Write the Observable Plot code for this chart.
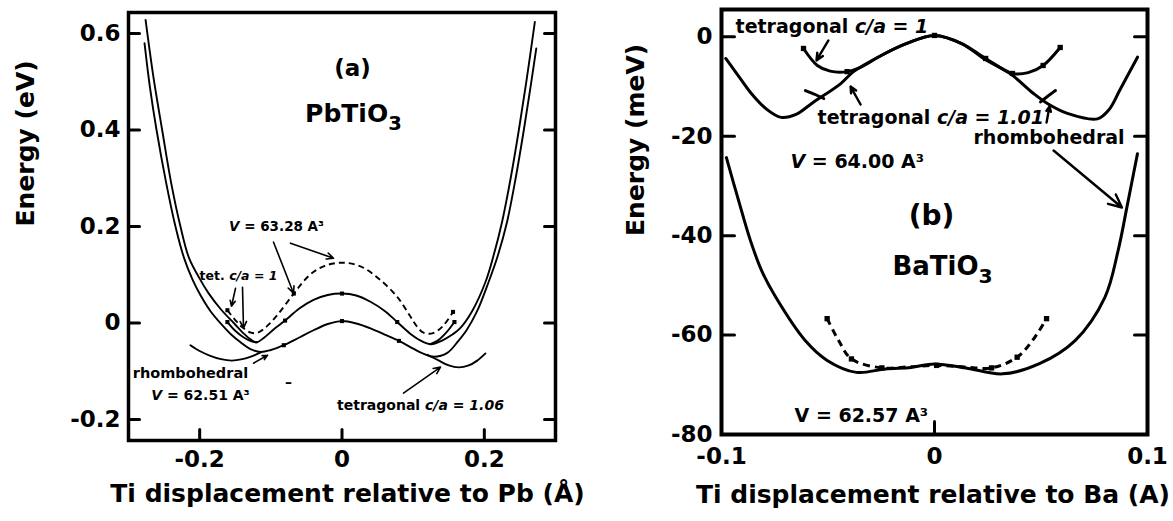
<!DOCTYPE html>
<html><head><meta charset="utf-8">
<script src="https://cdn.jsdelivr.net/npm/d3@7"></script>
<script src="https://cdn.jsdelivr.net/npm/@observablehq/plot@0.6"></script>
<style>
html,body{margin:0;padding:0;background:#fff;}
#wrap{display:flex;width:1173px;height:521px;overflow:hidden;}
</style></head><body><div id="wrap"></div>
<script>
// ---------- Panel (a) PbTiO3 : energy (eV) vs Ti displacement (Å) ----------
const aRhombInner = [[-0.276,0.628],[-0.265,0.51],[-0.2527,0.40],[-0.24,0.29],[-0.227,0.20],[-0.215,0.135],[-0.2,0.092],[-0.1876,0.062],[-0.17,0.028],[-0.152,0.0],[-0.138,-0.022],[-0.1286,-0.034],[-0.12,-0.04],[-0.11,-0.031],[-0.095,-0.012],[-0.08,0.005],[-0.06,0.03],[-0.04,0.048],[-0.02,0.058],[0,0.061],[0.02,0.057],[0.04,0.044],[0.06,0.025],[0.0776,0.002],[0.095,-0.021],[0.11,-0.036],[0.125,-0.044],[0.14,-0.037],[0.155,-0.024],[0.1665,-0.01],[0.183,0.025],[0.2016,0.085],[0.213,0.14],[0.225,0.21],[0.237,0.3],[0.2485,0.4],[0.26,0.51],[0.271,0.624]];
const aRhombOuter = [[-0.2775,0.58],[-0.27,0.49],[-0.2606,0.40],[-0.247,0.29],[-0.234,0.20],[-0.222,0.135],[-0.21,0.09],[-0.199,0.058],[-0.185,0.025],[-0.168,-0.005],[-0.155,-0.025],[-0.1426,-0.04],[-0.13,-0.053],[-0.1145,-0.06],[-0.1,-0.056],[-0.0818,-0.046],[-0.06,-0.03],[-0.04,-0.015],[-0.02,-0.002],[0,0.004],[0.02,-0.001],[0.04,-0.011],[0.06,-0.024],[0.08,-0.037],[0.1,-0.053],[0.115,-0.064],[0.129,-0.07],[0.148,-0.062],[0.163,-0.038],[0.175,-0.015],[0.19,0.025],[0.206,0.085],[0.219,0.14],[0.232,0.21],[0.244,0.3],[0.2555,0.4],[0.265,0.49],[0.273,0.569]];
const aTet106 = [
  [[-0.213,-0.046],[-0.2,-0.058],[-0.185,-0.068],[-0.17,-0.075],[-0.155,-0.078],[-0.14,-0.075],[-0.125,-0.068],[-0.114,-0.061]],
  [[0.12,-0.066],[0.135,-0.077],[0.15,-0.088],[0.164,-0.092],[0.178,-0.088],[0.19,-0.078],[0.2016,-0.063]]
];
const aTet1Dashed = [[-0.161,0.0265],[-0.15,0.006],[-0.14,-0.009],[-0.128,-0.02],[-0.118,-0.02],[-0.105,-0.006],[-0.09,0.018],[-0.0677,0.061],[-0.045,0.1],[-0.025,0.118],[0,0.125],[0.025,0.118],[0.05,0.094],[0.0776,0.054],[0.095,0.016],[0.1057,-0.008],[0.1145,-0.02],[0.128,-0.021],[0.142,-0.006],[0.156,0.023]];
const aTet1Solid = [
  [[-0.161,0.002],[-0.15,-0.016],[-0.138,-0.03],[-0.127,-0.038],[-0.12,-0.04]],
  [[0.124,-0.044],[0.135,-0.036],[0.147,-0.019],[0.158,0.002]]
];
const aMarkers = [[-0.161,0.0265],[-0.161,0.002],[0.156,0.023],[0.158,0.002],[-0.08,0.005],[0,0.061],[0.0776,0.002],[-0.0818,-0.046],[0,0.004],[0.08,-0.037],[-0.0677,0.061]];
const aYTicks = [0.6,0.4,0.2,0,-0.2];
const aXTicks = [-0.2,0,0.2];

// ---------- Panel (b) BaTiO3 : energy (meV) vs Ti displacement (A) ----------
const bRhomb = [[-0.098,-4.35],[-0.092,-7.9],[-0.086,-11.4],[-0.079,-14.5],[-0.072,-16.2],[-0.065,-15.6],[-0.057,-13.2],[-0.044,-9.4],[-0.038,-7.0],[-0.025,-3.75],[-0.013,-1.33],[0,0.28],[0.013,-1.4],[0.023,-4.35],[0.0355,-7.4],[0.0465,-11.4],[0.053,-13.4],[0.0624,-15.4],[0.0765,-16.5],[0.082,-14.6],[0.0869,-10.8],[0.0953,-4.09]];
const bTet1 = [[-0.0615,-2.34],[-0.055,-5.76],[-0.049,-6.9],[-0.041,-7.0],[-0.035,-6.2],[-0.025,-3.75],[-0.013,-1.33],[0,0.28],[0.013,-1.4],[0.024,-4.35],[0.0366,-7.37],[0.044,-7.2],[0.051,-5.76],[0.059,-2.14]];
const bTet1Markers = [[-0.0615,-2.34],[-0.041,-7.0],[0,0.28],[0.024,-4.35],[0.0366,-7.37],[0.051,-5.76],[0.059,-2.14]];
const bTet101 = [
  [[-0.0606,-10.8],[-0.056,-11.6],[-0.052,-12.4]],
  [[0.0498,-13.1],[0.053,-12.0],[0.0568,-10.8]]
];
const bLow = [[-0.0977,-24.3],[-0.092,-32.9],[-0.0864,-41.0],[-0.081,-47.2],[-0.0745,-52.4],[-0.0607,-61.1],[-0.0504,-65.1],[-0.0367,-67.5],[-0.023,-66.8],[-0.011,-66.5],[0,-65.8],[0.0148,-66.6],[0.032,-67.8],[0.049,-65.8],[0.066,-61.1],[0.08,-52.4],[0.0862,-43.0],[0.0905,-33.9],[0.0953,-23.5]];
const bLowTet = [[-0.0504,-56.7],[-0.045,-61.1],[-0.039,-64.8],[-0.0247,-66.6],[-0.012,-66.4],[0.001,-66.1],[0.014,-66.4],[0.0268,-66.6],[0.0388,-64.45],[0.046,-61.1],[0.0526,-56.7]];
const bLowTetMarkers = [[-0.0504,-56.7],[-0.039,-64.8],[-0.0247,-66.6],[0.001,-66.1],[0.0268,-66.6],[0.0388,-64.45],[0.0526,-56.7]];
const bYTicks = [0,-20,-40,-60,-80];
const bYTickMarks = [0,-20,-40,-60];
const bXTicks = [-0.1,0,0.1];
const bXTickMarks = [0];

// ---------- annotations (layout) ----------
const aLabels = [
  {x:0.0148,y:0.527,text:"(a)",size:23,anchor:"middle"},
  {x:0.016,y:0.4328,text:"PbTiO[3]",size:25,anchor:"middle"},
  {x:-0.092,y:0.199,text:"{V} = 63.28 A³",size:13.5,anchor:"middle"},
  {x:-0.1454,y:0.097,text:"tet. {c/a} = {1}",size:12.5,anchor:"middle"},
  {x:-0.2129,y:-0.1049,text:"rhombohedral",size:14.5,anchor:"middle"},
  {x:-0.1988,y:-0.1507,text:"{V} = 62.51 A³",size:14,anchor:"middle"},
  {x:-0.0752,y:-0.1227,text:"–",size:14,anchor:"middle"},
  {x:0.1103,y:-0.1714,text:"tetragonal {c/a = 1.06}",size:14,anchor:"middle"}
];
const aArrows = [
  {x1:-0.0962,y1:0.1675,x2:-0.0681,y2:0.0618},
  {x1:-0.0724,y1:0.1654,x2:-0.0119,y2:0.1343},
  {x1:-0.1398,y1:0.0742,x2:-0.1384,y2:-0.0108},
  {x1:-0.1496,y1:0.0721,x2:-0.1553,y2:0.0348},
  {x1:-0.1243,y1:-0.0833,x2:-0.1047,y2:-0.0667},
  {x1:0.0864,y1:-0.1454,x2:0.1384,y2:-0.0915}
];
const bLabels = [
  {x:-0.0934,y:2.09,text:"tetragonal {c/a = 1}",size:19,anchor:"start"},
  {x:-0.0549,y:-16.4,text:"tetragonal {c/a = 1.01}",size:19,anchor:"start"},
  {x:0.0183,y:-20.25,text:"rhombohedral",size:19,anchor:"start"},
  {x:-0.0676,y:-25.07,text:"{V} = 64.00 A³",size:19,anchor:"start"},
  {x:-0.0014,y:-36.14,text:"(b)",size:28,anchor:"middle"},
  {x:0.0038,y:-46.3,text:"BaTiO[3]",size:26,anchor:"middle"},
  {x:-0.0657,y:-76.18,text:"V = 62.57 A³",size:19,anchor:"start"}
];
const bArrows = [
  {x1:-0.0498,y1:-0.73,x2:-0.0554,y2:-4.75},
  {x1:-0.0347,y1:-13.61,x2:-0.0394,y2:-10.0},
  {x1:0.0526,y1:-17.23,x2:0.054,y2:-14.01},
  {x1:0.0559,y1:-22.86,x2:0.088,y2:-34.33}
];

// ---------- helpers ----------
const FONT = "'DejaVu Sans', sans-serif";
const fmt = d => (d < 0 ? "-" : "") + Math.abs(d);
const toPts = (arr, seg = 0) => arr.map(([x, y]) => ({x, y, seg}));
const toSegs = segs => segs.flatMap((s, i) => toPts(s, i));
const tickShape = {draw(context, l) { context.moveTo(0, 0); context.lineTo(0, -l); }};
function curve(data, opts) {
  return Plot.line(data, {x: "x", y: "y", z: "seg", curve: "catmull-rom", stroke: "black", strokeLinejoin: "round", strokeLinecap: "round", ...opts});
}
function richify(svg) {
  svg.querySelectorAll("text").forEach(t => {
    const s = t.textContent;
    if (!/[{\[]/.test(s)) return;
    t.textContent = "";
    let it = false, sub = false;
    for (const p of s.split(/([{}\[\]])/)) {
      if (p === "{") { it = true; continue; }
      if (p === "}") { it = false; continue; }
      if (p === "[") { sub = true; continue; }
      if (p === "]") { sub = false; continue; }
      if (!p) continue;
      const ts = document.createElementNS("http://www.w3.org/2000/svg", "tspan");
      if (it) ts.setAttribute("font-style", "italic");
      if (sub) { ts.setAttribute("font-size", "0.78em"); ts.setAttribute("dy", "0.38em"); }
      ts.textContent = p;
      t.appendChild(ts);
    }
  });
}
function frameAxes(yTicks, yTickMarks, xTicks, xTickMarks, tl, ypad, xpad, sw) {
  return [
    Plot.vector(yTickMarks, {y: d => d, frameAnchor: "left", rotate: 90, length: tl, anchor: "start", shape: tickShape, stroke: "black", strokeWidth: 3}),
    Plot.vector(yTickMarks, {y: d => d, frameAnchor: "right", rotate: -90, length: tl, anchor: "start", shape: tickShape, stroke: "black", strokeWidth: 3}),
    Plot.vector(xTickMarks, {x: d => d, frameAnchor: "bottom", rotate: 0, length: tl, anchor: "start", shape: tickShape, stroke: "black", strokeWidth: 3}),
    Plot.frame({strokeWidth: sw}),
    Plot.axisY({ticks: yTicks, anchor: "left", tickSize: 0, tickPadding: ypad, tickFormat: fmt, label: null, fontSize: 23, fontWeight: "bold"}),
    Plot.axisX({ticks: xTicks, anchor: "bottom", tickSize: 0, tickPadding: xpad, tickFormat: fmt, label: null, fontSize: 23, fontWeight: "bold"})
  ];
}
const baseStyle = {fontFamily: FONT, fontWeight: "bold", fontSize: "23px", background: "white", color: "black", overflow: "visible"};

// ---------- panel a ----------
const plotA = Plot.plot({
  width: 590, height: 521,
  marginLeft: 128, marginRight: 35, marginTop: 12, marginBottom: 81,
  x: {domain: [-0.3, 0.3]},
  y: {domain: [-0.2435, 0.6435]},
  style: baseStyle,
  marks: [
    curve(toPts(aRhombOuter), {strokeWidth: 1.9}),
    curve(toPts(aRhombInner), {strokeWidth: 1.9}),
    curve(toSegs(aTet106), {strokeWidth: 1.9}),
    curve(toSegs(aTet1Solid), {strokeWidth: 1.9}),
    curve(toPts(aTet1Dashed), {strokeWidth: 1.9, strokeDasharray: "6,4", strokeLinecap: "butt"}),
    Plot.dot(toPts(aMarkers), {x: "x", y: "y", symbol: "square", r: 2.3, fill: "black"}),
    Plot.arrow(aArrows, {x1: "x1", y1: "y1", x2: "x2", y2: "y2", stroke: "black", strokeWidth: 1.6, headLength: 7, headAngle: 50}),
    Plot.text(aLabels, {x: "x", y: "y", text: "text", fontSize: "size", textAnchor: "middle", fontWeight: "bold"}),
    ...frameAxes(aYTicks, aYTicks, aXTicks, aXTicks, 11, 8, 10, 3.5),
    Plot.text(["Ti displacement relative to Pb (Å)"], {frameAnchor: "bottom", dx: 5.5, dy: 61, text: d => d, fontSize: 25}),
    Plot.text(["Energy (eV)"], {frameAnchor: "left", dx: -103, rotate: -90, text: d => d, fontSize: 25})
  ]
});

// ---------- panel b ----------
const plotB = Plot.plot({
  width: 583, height: 521,
  marginLeft: 131, marginRight: 26, marginTop: 9, marginBottom: 87,
  x: {domain: [-0.1, 0.1]},
  y: {domain: [-80, 5.5]},
  style: baseStyle,
  marks: [
    curve(toPts(bRhomb), {strokeWidth: 3}),
    curve(toPts(bTet1), {strokeWidth: 3}),
    curve(toSegs(bTet101), {strokeWidth: 3}),
    curve(toPts(bLow), {strokeWidth: 3}),
    curve(toPts(bLowTet), {strokeWidth: 3, strokeDasharray: "7,5", strokeLinecap: "butt"}),
    Plot.dot(toPts(bTet1Markers), {x: "x", y: "y", symbol: "square", r: 3, fill: "black"}),
    Plot.dot(toPts(bLowTetMarkers), {x: "x", y: "y", symbol: "square", r: 3, fill: "black"}),
    Plot.arrow(bArrows, {x1: "x1", y1: "y1", x2: "x2", y2: "y2", stroke: "black", strokeWidth: 2.4, headLength: 9, headAngle: 50}),
    Plot.text(bLabels.filter(d => d.anchor === "start"), {x: "x", y: "y", text: "text", fontSize: "size", textAnchor: "start", fontWeight: "bold"}),
    Plot.text(bLabels.filter(d => d.anchor === "middle"), {x: "x", y: "y", text: "text", fontSize: "size", textAnchor: "middle", fontWeight: "bold"}),
    ...frameAxes(bYTicks, bYTickMarks, bXTicks, bXTickMarks, 13, 9, 13, 4),
    Plot.text(["Ti displacement relative to Ba (A)"], {frameAnchor: "bottom", dx: -1.5, dy: 68, text: d => d, fontSize: 25}),
    Plot.text(["Energy (meV)"], {frameAnchor: "left", dx: -86, dy: 14, rotate: -90, text: d => d, fontSize: 25})
  ]
});

richify(plotA); richify(plotB);
const wrap = document.getElementById("wrap");
wrap.appendChild(plotA);
wrap.appendChild(plotB);
</script></body></html>
